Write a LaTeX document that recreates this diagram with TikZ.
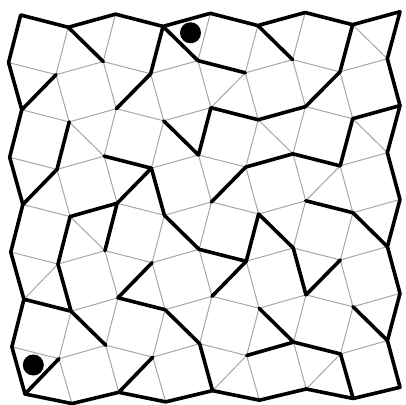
\documentclass[tikz,border=0pt]{standalone}
\newcommand\mzpt[3]{%
  \pgfmathsetmacro\mzx{20.7+94.825*(#2)+1.075*(#3)-0.26875*(#2)*(#3)}%
  \pgfmathsetmacro\mzy{389-(-0.825*(#2)+94.75*(#3)-0.2125*(#2)*(#3))}%
  \coordinate (#1) at (\mzx pt,\mzy pt);}
\begin{document}
\begin{tikzpicture}[x=1pt,y=1pt,
  grid/.style={draw=black!35,line width=1pt},
  wall/.style={draw=black,line width=3.6pt,line cap=round,line join=round},
  dotmark/.style={fill=black}]
\useasboundingbox (0,0) rectangle (406,404);
% vertices
\foreach \i in {0,...,4}{\foreach \j in {0,...,4}{\mzpt{a\i\j}{\i}{\j}}}
\foreach \i in {0,...,3}{\foreach \j in {0,...,3}{\mzpt{b\i\j}{\i+0.5}{\j+0.13397}}}
\foreach \i in {0,...,3}{\mzpt{b\i4}{\i+0.5}{4.11}}
\foreach \i in {0,...,4}{\foreach \j in {0,...,3}{\mzpt{c\i\j}{\i-0.13397}{\j+0.5}}}
\foreach \i in {0,...,3}{\foreach \j in {0,...,3}{\mzpt{d\i\j}{\i+0.36603}{\j+0.63397}}}
% tiling edges
\foreach \i in {0,...,3}{\foreach \j in {0,...,3}{%
  \pgfmathtruncatemacro\ip{\i+1}%
  \pgfmathtruncatemacro\jp{\j+1}%
  \draw[grid] (a\i\j) -- (b\i\j) -- (a\ip\j);
  \draw[grid] (a\i\j) -- (c\i\j) -- (a\i\jp);
  \draw[grid] (b\i\j) -- (d\i\j) -- (c\i\j);
  \draw[grid] (b\i\j) -- (c\ip\j) -- (d\i\j);
  \draw[grid] (d\i\j) -- (b\i\jp);
  \draw[grid] (d\i\j) -- (a\i\jp);
}}
% outer wall
\draw[wall] (a00) -- (b00) -- (a10) -- (b10) -- (a20) -- (b20) -- (a30) -- (b30) -- (a40)
  -- (c40) -- (a41) -- (c41) -- (a42) -- (c42) -- (a43) -- (c43) -- (a44)
  -- (b34) -- (a34) -- (b24) -- (a24) -- (b14) -- (a14) -- (b04) -- (a04)
  -- (c03) -- (a03) -- (c02) -- (a02) -- (c01) -- (a01) -- (c00) -- cycle;
% inner walls
\draw[wall] (b00) -- (c10);
\draw[wall] (d00) -- (a01);
\draw[wall] (a11) -- (d10) -- (b10) -- (c20) -- (d20);
\draw[wall] (b20) -- (c30);
\draw[wall] (b30) -- (d30) -- (a31) -- (b21) -- (a21) -- (c21) -- (b11);
\draw[wall] (b01) -- (d01) -- (a02);
\draw[wall] (c11) -- (d11) -- (a12);
\draw[wall] (d11) -- (b12) -- (c22) -- (d22) -- (b22) -- (c32) -- (a33) -- (d32);
\draw[wall] (d22) -- (a23);
\draw[wall] (a41) -- (b31) -- (d31) -- (c31) -- (d21) -- (a22);
\draw[wall] (c12) -- (a12) -- (b02) -- (d02) -- (b03);
\draw[wall] (a03) -- (b03) -- (c13);
\draw[wall] (d12) -- (a13) -- (b13) -- (c23) -- (a24);
\draw[wall] (a32) -- (b32) -- (c42);
\draw[wall] (d03) -- (a04);
\draw[wall] (d13) -- (a14);
\draw[wall] (b23) -- (c33) -- (d23);
\draw[wall] (c33) -- (d33) -- (b34);
\draw[wall] (b33) -- (c43);
% start and end
\node[dotmark,circle,minimum size=21pt,inner sep=0pt] (start) at (190.5,371.2) {};
\node[dotmark,circle,minimum size=21pt,inner sep=0pt] (finish) at (33.3,39) {};
\end{tikzpicture}
\end{document}
